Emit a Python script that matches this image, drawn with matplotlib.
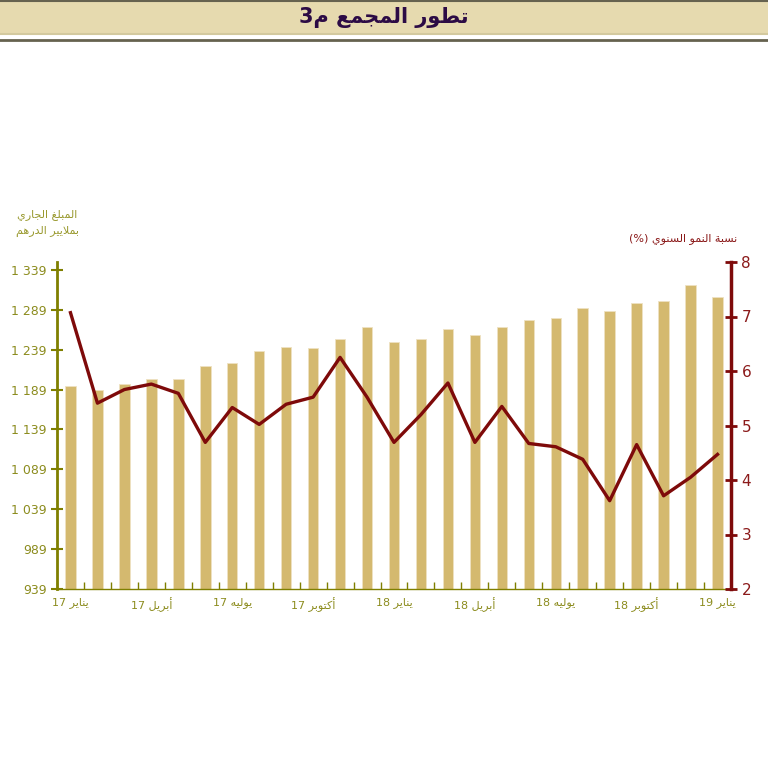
import numpy as np
import matplotlib
matplotlib.use('Agg')
from matplotlib import pyplot as plt
from matplotlib.patches import Rectangle
from matplotlib.lines import Line2D

# البيانات
months = ['يناير 17', 'فبراير 17', 'مارس 17', 'أبريل 17', 'ماي 17', 'يونيو 17',
          'يوليه 17', 'غشت 17', 'شتنبر 17', 'أكتوبر 17', 'نونبر 17', 'دجنبر 17',
          'يناير 18', 'فبراير 18', 'مارس 18', 'أبريل 18', 'ماي 18', 'يونيو 18',
          'يوليه 18', 'غشت 18', 'شتنبر 18', 'أكتوبر 18', 'نونبر 18', 'دجنبر 18',
          'يناير 19']
amount = [1194, 1189, 1196, 1202, 1202, 1219, 1222, 1237, 1242, 1241, 1253, 1268,
          1249, 1252, 1265, 1257, 1267, 1276, 1279, 1291, 1287, 1298, 1300, 1320,
          1305]
growth = [7.07, 5.41, 5.66, 5.76, 5.59, 4.69, 5.33, 5.02, 5.39, 5.52, 6.25, 5.52,
          4.69, 5.20, 5.78, 4.69, 5.35, 4.67, 4.61, 4.38, 3.62, 4.65, 3.71, 4.05,
          4.47]
left_ticks = [939, 989, 1039, 1089, 1139, 1189, 1239, 1289, 1339]
right_ticks = [2, 3, 4, 5, 6, 7, 8]

# تشكيل الحروف العربية (matplotlib لا يربط الحروف)
DUAL = {'ئ': 0xFE89, 'ب': 0xFE8F, 'ت': 0xFE95, 'ث': 0xFE99, 'ج': 0xFE9D, 'ح': 0xFEA1,
        'خ': 0xFEA5, 'س': 0xFEB1, 'ش': 0xFEB5, 'ص': 0xFEB9, 'ض': 0xFEBD, 'ط': 0xFEC1,
        'ظ': 0xFEC5, 'ع': 0xFEC9, 'غ': 0xFECD, 'ف': 0xFED1, 'ق': 0xFED5, 'ك': 0xFED9,
        'ل': 0xFEDD, 'م': 0xFEE1, 'ن': 0xFEE5, 'ه': 0xFEE9, 'ي': 0xFEF1}
RIGHT = {'آ': 0xFE81, 'أ': 0xFE83, 'ؤ': 0xFE85, 'إ': 0xFE87, 'ا': 0xFE8D, 'ة': 0xFE93,
         'د': 0xFEA9, 'ذ': 0xFEAB, 'ر': 0xFEAD, 'ز': 0xFEAF, 'و': 0xFEED, 'ى': 0xFEEF,
         'ﻻ': 0xFEFB}


def shape_word(w):
    w = w.replace('لا', 'ﻻ')
    out = []
    for i, c in enumerate(w):
        if c not in DUAL and c not in RIGHT:
            out.append(c)
            continue
        prev = w[i - 1] if i > 0 else ''
        nxt = w[i + 1] if i + 1 < len(w) else ''
        jp = prev in DUAL
        jn = c in DUAL and (nxt in DUAL or nxt in RIGHT)
        if c in DUAL:
            base = DUAL[c]
            off = 3 if (jp and jn) else 1 if jp else 2 if jn else 0
        else:
            base = RIGHT[c]
            off = 1 if jp else 0
        out.append(chr(base + off))
    return ''.join(out)


def ar(s):
    toks = []
    for t in s.split(' '):
        if any(c in DUAL or c in RIGHT for c in t):
            letters = ''.join(c for c in t if not c.isdigit())
            digits = ''.join(c for c in t if c.isdigit())
            toks.append(digits + shape_word(letters)[::-1])
        else:
            toks.append(t)
    return ' '.join(toks[::-1])


plt.rcParams['font.family'] = ['DejaVu Sans']

bar_col = '#D4B96F'
line_col = '#7E0A0A'
olive = '#7F7F00'
olive_txt = '#8C8C1E'
maroon_txt = '#8B1A1A'

fig = plt.figure(figsize=(7.68, 7.78), dpi=100)

# الشريط العلوي
fig.patches.append(Rectangle((0, 1 - 34 / 778), 1, 34 / 778, transform=fig.transFigure,
                             facecolor='#E6DAAF', edgecolor='none'))
fig.lines.append(Line2D([0, 1], [1 - 1 / 778] * 2, transform=fig.transFigure, color='#66624F', lw=1.5))
fig.lines.append(Line2D([0, 1], [1 - 34 / 778] * 2, transform=fig.transFigure, color='#D3C99E', lw=1.5))
fig.lines.append(Line2D([0, 1], [1 - 40 / 778] * 2, transform=fig.transFigure, color='#66624F', lw=2))
fig.text(0.5, 1 - 17 / 778, ar('تطور المجمع م3'), ha='center', va='center',
         fontsize=15, fontweight='bold', color='#2C0B45')

ax = fig.add_axes([57 / 768, 1 - 589 / 778, (731 - 57) / 768, (589 - 262) / 778])
x = np.arange(len(months))
ax.bar(x, amount, width=0.39, color=bar_col, edgecolor='#EEE2C2', linewidth=0.6, zorder=2)
ax.set_xlim(-0.5, len(months) - 0.5)
ax.set_ylim(939, 939 + 400 * 327 / 319)
ax.set_yticks(left_ticks)
ax.set_yticklabels([f'{v:,}'.replace(',', ' ') for v in left_ticks])
ax.tick_params(axis='y', colors=olive, direction='inout', length=8, width=1.5,
               labelcolor=olive_txt, labelsize=9)
ax.set_xticks(x)
ax.set_xticklabels([ar(m) if i % 3 == 0 else '' for i, m in enumerate(months)],
                   fontsize=8, color=olive_txt)
ax.tick_params(axis='x', length=0, pad=6)
ax.set_xticks(np.arange(len(months) + 1) - 0.5, minor=True)
ax.tick_params(axis='x', which='minor', direction='in', length=5, width=1, color=olive)
for s in ['top', 'right']:
    ax.spines[s].set_visible(False)
ax.spines['left'].set_color(olive)
ax.spines['left'].set_linewidth(2)
ax.spines['bottom'].set_color(olive)
ax.spines['bottom'].set_linewidth(1)

ax2 = ax.twinx()
ax2.plot(x, growth, color=line_col, lw=2.4, zorder=3)
ax2.set_ylim(2, 8)
ax2.set_yticks(right_ticks)
ax2.tick_params(axis='y', colors=line_col, direction='inout', length=8, width=2,
                labelcolor=maroon_txt, labelsize=11)
for s in ['top', 'left', 'bottom']:
    ax2.spines[s].set_visible(False)
ax2.spines['right'].set_color(line_col)
ax2.spines['right'].set_linewidth(2.5)

fig.text(47 / 768, 1 - 215 / 778, ar('المبلغ الجاري'), ha='center', va='center',
         fontsize=8, color='#9A9A30')
fig.text(47 / 768, 1 - 231 / 778, ar('بملايير الدرهم'), ha='center', va='center',
         fontsize=8, color='#9A9A30')
fig.text(683 / 768, 1 - 239 / 778, ar('نسبة النمو السنوي (%)'), ha='center', va='center',
         fontsize=8, color=maroon_txt)

fig.savefig('out.png', dpi=100)
